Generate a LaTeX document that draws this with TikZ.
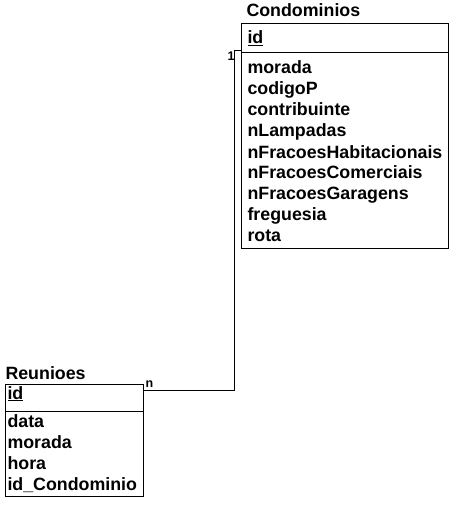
\documentclass[tikz,border=0pt]{standalone}
\usepackage{fontspec}
\setmainfont{Liberation Sans}
\begin{document}
\begin{tikzpicture}[x=1pt,y=-1pt,line width=1pt,
  tbl/.style={draw, inner sep=0pt, anchor=north west},
  fld/.style={anchor=base west, inner sep=0pt, font=\fontsize{17.8}{20}\selectfont\bfseries},
  card/.style={anchor=base west, inner sep=0pt, font=\fontsize{12.5}{14}\selectfont\bfseries}]
\useasboundingbox (0,0) rectangle (459,505);
% Condominios
\node[tbl, minimum width=207pt, minimum height=225pt] (cbox) at (241,23) {};
\draw (cbox.west |- 0,53) -- (cbox.east |- 0,53);
\node[fld] (ctitle) at (246,17) {Condominios};
\node[fld] (cid) at (247,44) {\underline{id}};
\node[fld] (c1) at (247,74) {morada};
\node[fld] (c2) at (247,95) {codigoP};
\node[fld] (c3) at (247,116) {contribuinte};
\node[fld] (c4) at (247,137) {nLampadas};
\node[fld] (c5) at (247,158) {nFracoesHabitacionais};
\node[fld] (c6) at (247,178) {nFracoesComerciais};
\node[fld] (c7) at (247,199) {nFracoesGaragens};
\node[fld] (c8) at (247,220) {freguesia};
\node[fld] (c9) at (247,241) {rota};
% Reunioes
\node[tbl, minimum width=138pt, minimum height=112pt] (rbox) at (5,384) {};
\draw (rbox.west |- 0,411) -- (rbox.east |- 0,411);
\node[fld] (rtitle) at (5,379) {Reunioes};
\node[fld] (rid) at (7,399) {\underline{id}};
\node[fld] (r1) at (7,427) {data};
\node[fld] (r2) at (7,448) {morada};
\node[fld] (r3) at (7,469) {hora};
\node[fld] (r4) at (7,490) {id\_Condominio};
% connector
\coordinate (bend) at (234,390);
\draw (cbox.west |- 0,51) -| (bend) -- (rbox.east |- bend);
\node[card] (one) at (227,61) {1};
\node[card] (many) at (145,387) {n};
\end{tikzpicture}
\end{document}
